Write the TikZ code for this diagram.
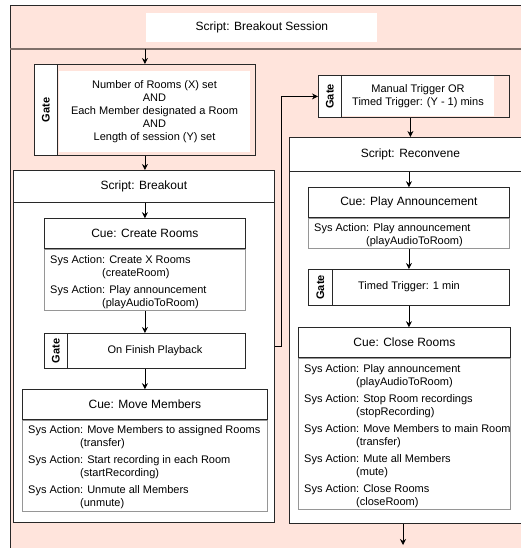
\documentclass[tikz,border=0pt]{standalone}
\usepackage{fontspec}
\setmainfont{Liberation Sans}
\usetikzlibrary{arrows.meta,positioning}

\definecolor{sessionpink}{RGB}{255,228,220}
\definecolor{boxline}{RGB}{40,40,40}
\definecolor{bodyline}{RGB}{150,150,150}
\definecolor{headrule}{RGB}{128,112,106}

\newcommand{\sysaction}[2]{Sys Action: #1\\\hspace*{52pt}(#2)}

\tikzset{
  every node/.style={
    font=\fontsize{11}{13}\selectfont
  },
  panel/.style={
    shape=rectangle,
    anchor=north west,
    draw=boxline,
    line width=0.8pt,
    fill=white,
    inner sep=0pt
  },
  scripthead/.style={
    panel,
    font=\fontsize{12}{14}\selectfont
  },
  cuehead/.style={
    panel,
    anchor=south west,
    font=\fontsize{12}{14}\selectfont,
    minimum height=30pt
  },
  cuebody/.style={
    panel,
    draw=bodyline
  },
  actions/.style={
    anchor=north west,
    align=left,
    inner sep=0pt
  },
  gatestrip/.style={
    panel,
    minimum width=23pt,
    font=\fontsize{11}{13}\selectfont\bfseries
  },
  gatetext/.style={
    shape=rectangle,
    inner sep=0pt,
    align=center
  },
  flow/.style={
    draw=black,
    line width=0.8pt,
    -{Stealth[length=6pt,width=6pt]}
  },
  headsep/.style={
    draw=headrule,
    line width=1.6pt
  }
}

\begin{document}
\begin{tikzpicture}[x=1pt,y=-1pt]
  \useasboundingbox (0,0) rectangle (521,548);
  \clip (0,0) rectangle (521,548);

  % outer script
  \node [panel, fill=sessionpink, minimum width=530pt, minimum height=560pt] (session) at (10,5) {};
  \node [panel, draw=none, fill=none, minimum width=530pt, minimum height=43pt] (sessionhead) at (10,5) {};
  \draw [headsep] (sessionhead.south west) -- (sessionhead.south east);
  \node [scripthead, draw=none, minimum width=231pt, minimum height=29pt] (sessiontitle) at (146,13) {Script: Breakout Session};

  % first gate
  \node [panel, fill=sessionpink, minimum width=221pt, minimum height=91pt] (g1) at (34,64) {};
  \node [gatestrip, minimum height=91pt] (g1strip) at (g1.north west) {\rotatebox{90}{Gate}};
  \node [gatetext, fill=white, minimum width=191pt, minimum height=81pt] (g1text) at (154.5,111.5)
    {Number of Rooms (X) set\\AND\\Each Member designated a Room\\AND\\Length of session (Y) set};

  % breakout script
  \node [panel, minimum width=261pt, minimum height=352pt] (breakout) at (13,170) {};
  \node [scripthead, minimum width=261pt, minimum height=32pt] (breakouthead) at (breakout.north west) {Script: Breakout};

  \node [cuebody, minimum width=201pt, minimum height=61pt] (createbody) at (44,249) {};
  \node [cuehead, minimum width=201pt] (createhead) at (createbody.north west) {Cue: Create Rooms};
  \node [actions] (createtext) at ([shift={(6,6)}]createbody.north west)
    {\sysaction{Create X Rooms}{createRoom}\\[4pt]
     \sysaction{Play announcement}{playAudioToRoom}};

  \node [panel, minimum width=201pt, minimum height=35pt] (g2) at (44,333) {};
  \node [gatestrip, minimum height=35pt] (g2strip) at (g2.north west) {\rotatebox{90}{Gate}};
  \node [gatetext] (g2text) at (155,350.5) {On Finish Playback};

  \node [cuebody, minimum width=245pt, minimum height=91pt] (movebody) at (22,420) {};
  \node [cuehead, minimum width=245pt] (movehead) at (movebody.north west) {Cue: Move Members};
  \node [actions] (movetext) at ([shift={(6,5)}]movebody.north west)
    {\sysaction{Move Members to assigned Rooms}{transfer}\\[4pt]
     \sysaction{Start recording in each Room}{startRecording}\\[4pt]
     \sysaction{Unmute all Members}{unmute}};

  % second gate
  \node [panel, fill=sessionpink, minimum width=191pt, minimum height=42pt] (g3) at (318,75) {};
  \node [gatestrip, minimum height=42pt] (g3strip) at (g3.north west) {\rotatebox{90}{Gate}};
  \node [gatetext, fill=white, minimum width=152pt, minimum height=40pt] (g3text) at (418,96)
    {Manual Trigger OR\\Timed Trigger: (Y - 1) mins};

  % reconvene script
  \node [panel, minimum width=242pt, minimum height=386pt] (reconvene) at (289,137) {};
  \node [scripthead, minimum width=242pt, minimum height=34pt] (reconvenehead) at (reconvene.north west) {Script: Reconvene};

  \node [cuebody, minimum width=201pt, minimum height=30pt] (playbody) at (308,218) {};
  \node [cuehead, minimum width=201pt] (playhead) at (playbody.north west) {Cue: Play Announcement};
  \node [actions] (playtext) at ([shift={(6,5)}]playbody.north west)
    {\sysaction{Play announcement}{playAudioToRoom}};

  \node [panel, minimum width=201pt, minimum height=36pt] (g4) at (308,269) {};
  \node [gatestrip, minimum width=24pt, minimum height=36pt] (g4strip) at (g4.north west) {\rotatebox{90}{Gate}};
  \node [gatetext] (g4text) at (409,287) {Timed Trigger: 1 min};

  \node [cuebody, minimum width=212pt, minimum height=151pt] (closebody) at (298,358) {};
  \node [cuehead, minimum width=212pt] (closehead) at (closebody.north west) {Cue: Close Rooms};
  \node [actions] (closetext) at ([shift={(6,6)}]closebody.north west)
    {\sysaction{Play announcement}{playAudioToRoom}\\[4pt]
     \sysaction{Stop Room recordings}{stopRecording}\\[4pt]
     \sysaction{Move Members to main Room}{transfer}\\[4pt]
     \sysaction{Mute all Members}{mute}\\[4pt]
     \sysaction{Close Rooms}{closeRoom}};

  % connectors
  \draw [flow] (sessionhead.south -| g1.north) -- (g1.north);
  \draw [flow] (g1.south) -- (g1.south |- breakout.north);
  \draw [flow] (breakouthead.south -| createhead.north) -- (createhead.north);
  \draw [flow] (createbody.south) -- (g2.north);
  \draw [flow] (g2.south) -- (g2.south |- movehead.north);
  \draw [flow] (breakout.east) -- ++(7,0) |- (g3.west);
  \draw [flow] (g3.south -| reconvenehead.north) -- (reconvenehead.north);
  \draw [flow] (reconvenehead.south -| playhead.north) -- (playhead.north);
  \draw [flow] (playbody.south) -- (g4.north);
  \draw [flow] (g4.south) -- (g4.south |- closehead.north);
  \coordinate (onward) at (403,545);
  \draw [flow] (reconvene.south -| onward) -- (onward);
\end{tikzpicture}
\end{document}
